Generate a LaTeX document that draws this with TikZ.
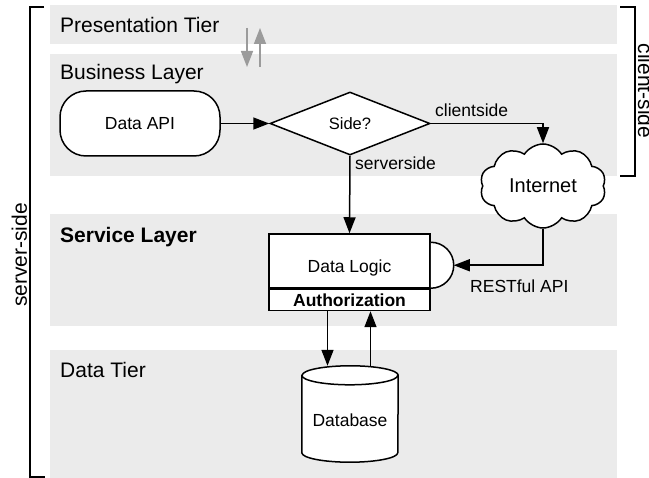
\documentclass[tikz,border=0pt]{standalone}
\usepackage{fontspec}
\setmainfont{Liberation Sans}
\usetikzlibrary{arrows.meta,shapes.geometric,shapes.symbols,calc}

\definecolor{bandgray}{HTML}{EBEBEB}
\definecolor{tiergray}{HTML}{9B9B9B}

\begin{document}
\begin{tikzpicture}[x=1pt,y=-1pt,
  tierlabel/.style={anchor=base west, inner sep=0pt, font=\fontsize{21}{25}\selectfont},
  sidelabel/.style={anchor=base, inner sep=0pt, font=\fontsize{21}{25}\selectfont},
  shapebox/.style={draw, line width=1.5pt, fill=white, inner sep=0pt,
    font=\fontsize{17.5}{21}\selectfont},
  edgelabel/.style={anchor=base west, inner sep=0pt, font=\fontsize{17.5}{21}\selectfont},
  conn/.style={line width=1.5pt, -{Triangle[length=16pt,width=12pt]}},
  tierarrow/.style={draw=tiergray, line width=1.6pt,
    -{Triangle[length=16pt,width=12pt,fill=tiergray]}},
  bracket/.style={line width=1.8pt},
]
\useasboundingbox (0,0) rectangle (649,478);

% tier bands
\fill[bandgray] (50,5)   rectangle (617,44);
\fill[bandgray] (50,54)  rectangle (617,176);
\fill[bandgray] (50,214) rectangle (617,326);
\fill[bandgray] (50,350) rectangle (617,478);

% tier titles
\node[tierlabel] (tpres) at (60,33)  {Presentation Tier};
\node[tierlabel] (tbus)  at (60,80)  {Business Layer};
\node[tierlabel, font=\fontsize{21}{25}\selectfont\bfseries] (tserv) at (60,243) {Service Layer};
\node[tierlabel] (tdata) at (60,378) {Data Tier};

% exchange between presentation and business tiers
\coordinate (downA) at (247,28);
\coordinate (downB) at (247,67);
\coordinate (upA)   at (260,67);
\coordinate (upB)   at (260,28);
\draw[tierarrow] (downA) -- (downB);
\draw[tierarrow] (upA) -- (upB);

% side brackets
\draw[bracket] (44,7) -- (30,7) -- (30,477) -- (45,477);
\draw[bracket] (620,7) -- (635,7) -- (635,176) -- (620,176);
\node[sidelabel, rotate=90]  (srv) at (27,255) {server-side};
\node[sidelabel, rotate=-90] (cli) at (638,91) {client-side};

% business layer
\node[shapebox, rounded corners=26pt, minimum width=160pt, minimum height=65pt]
  (api) at (140,123.5) {Data API};
\node[shapebox, diamond, minimum width=160pt, minimum height=63pt,
  font=\fontsize{16.5}{20}\selectfont] (side) at (350,123.5) {Side?};

% internet
\node[shapebox, cloud, cloud puffs=10, cloud puff arc=115, aspect=1.6,
  minimum width=126pt, minimum height=84pt, font=\fontsize{20}{24}\selectfont]
  (net) at (543,186) {Internet};

% service layer
\node[shapebox, minimum width=161pt, minimum height=54pt] (dl) at (349.5,261) {};
\node[edgelabel, anchor=base] (dltext) at ([yshift=-39pt]dl.north) {Data Logic};
\node[shapebox, minimum width=161pt, minimum height=21pt, anchor=north,
  font=\fontsize{17.5}{21}\selectfont\bfseries] (auth) at (dl.south) {Authorization};
\draw[line width=1.5pt, fill=white] ([yshift=-9pt]dl.north east)
  arc[start angle=90, end angle=-90, radius=23pt];
\coordinate (sock) at ([yshift=-32pt,xshift=23pt]dl.north east);

% data tier
\node[minimum width=96pt, minimum height=96pt, inner sep=0pt] (db) at (350,414) {};
\draw[line width=1.5pt, fill=white]
  ([yshift=-9.5pt]db.north west) -- ([yshift=9.5pt]db.south west)
  arc[start angle=180, end angle=360, x radius=48pt, y radius=9.5pt]
  -- ([yshift=-9.5pt]db.north east)
  arc[start angle=0, end angle=180, x radius=48pt, y radius=9.5pt] -- cycle;
\draw[line width=1.5pt] ([yshift=-9.5pt]db.north west)
  arc[start angle=180, end angle=360, x radius=48pt, y radius=9.5pt];
\node[edgelabel, anchor=center] (dbtext) at ([yshift=-6pt]db.center) {Database};

% connectors
\draw[conn] (api.east) -- (side.west);
\draw[conn] (side.east) -| (net.north);
\draw[conn] (side.south) -- (dl.north);
\draw[conn] (net.south) |- (sock);
\draw[conn] ([xshift=-22pt]auth.south) -- ([xshift=-22pt]auth.south |- db.north);
\draw[conn] ([xshift=20.5pt]db.north) -- ([xshift=20.5pt]db.north |- auth.south);

% connector labels
\node[edgelabel] (lcli) at (435,116.5) {clientside};
\node[edgelabel] (lsrv) at (355,170)   {serverside};
\node[edgelabel] (lrest) at (470,292.5) {RESTful API};
\end{tikzpicture}
\end{document}
